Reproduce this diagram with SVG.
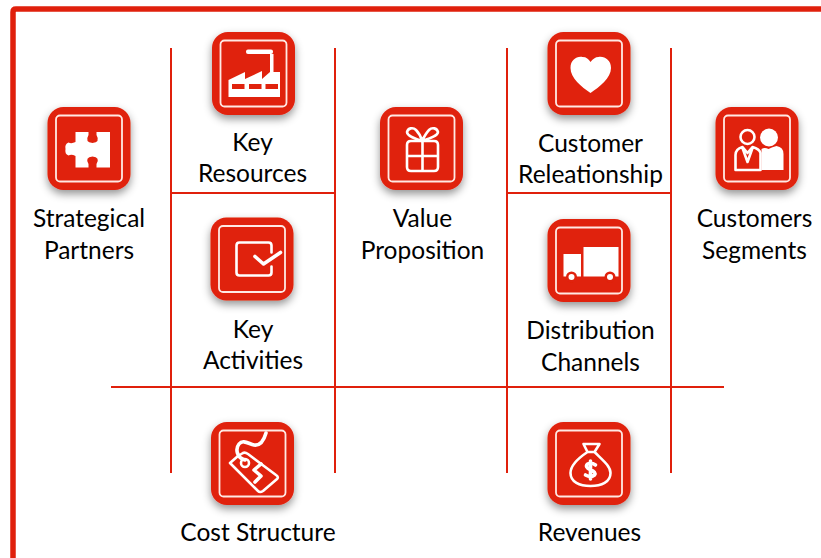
<svg xmlns="http://www.w3.org/2000/svg" width="821" height="558" viewBox="0 0 821 558">
<style>
text{font-family:"Lato","Liberation Sans",sans-serif;font-size:24.5px;fill:#000;text-anchor:middle;transform:translateY(.8px)}
.ln{stroke:#e0200c;stroke-width:2;fill:none}
.tile{fill:#e0200c;filter:url(#sh)}
.in{fill:none;stroke:#ffe9e4;stroke-width:1.800;filter:url(#bl)}
.ic{filter:url(#bl)}
.w{fill:#fff}
.s{fill:none;stroke:#fff;stroke-width:2.600;stroke-linejoin:round;stroke-linecap:round}
.t{stroke-width:3.600}
.r{fill:#e0200c}
</style>
<defs>
<filter id="sh" x="-20%" y="-20%" width="140%" height="145%"><feDropShadow dx="0" dy="4" stdDeviation="4" flood-color="#000" flood-opacity=".42"/></filter>
<filter id="bl" x="-10%" y="-10%" width="120%" height="120%"><feGaussianBlur stdDeviation=".5"/></filter>
<g id="bg"><rect class="tile" width="83" height="83" rx="16"/><rect class="in" x="8.500" y="8.500" width="66" height="66" rx="4"/></g>
</defs>
<rect width="821" height="558" fill="#fff"/>
<path d="M13 558V12q0-3 3-3H821" fill="none" stroke="#e0200c" stroke-width="5.500"/>
<g id="connectors">
<path class="ln" d="M171 48V473M335 48V473M507 48V473M671 48V473M171 193H335M507 193H671M111 387H724"/>
</g>
<g id="strategical-partners" transform="translate(47.500 107)"><use href="#bg"/>
<g class="ic"><path class="w" d="M28 25H41V28Q37 35 45 36Q53 35 49 28V25H62.500V60.500H49V57Q53 50 45 49.500Q37 50 41 57V60.500H28V49Q24 47 21 48.500Q17 47 18 42Q17 37 21 35.500Q24 37 28 35Z"/></g>
<text x="41.500" y="119">Strategical</text><text x="41.500" y="151">Partners</text></g>
<g id="key-resources" transform="translate(212 32)"><use href="#bg"/>
<g class="ic"><rect class="w" x="34" y="17.500" width="27" height="4.500" rx="2"/><rect class="w" x="58" y="22" width="3.500" height="20"/>
<path class="w" d="M16.500 48L33 40V47L50 39V47L58 40H68V65H16.500Z"/>
<rect class="r" x="20" y="52" width="12.500" height="5"/><rect class="r" x="37" y="52" width="12.500" height="5"/><rect class="r" x="53.500" y="52" width="12.500" height="5"/></g>
<text x="40.500" y="118">Key</text><text x="40.500" y="149">Resources</text></g>
<g id="key-activities" transform="translate(210.500 217.500)"><use href="#bg"/>
<g class="ic"><path class="s" d="M61 35V28Q61 25 58 25H29Q26 25 26 28V55Q26 58 29 58H58Q61 58 61 55V49"/>
<path class="s t" d="M44.500 39L53 46.500L70 35"/></g>
<text x="42.500" y="120">Key</text><text x="42.500" y="151">Activities</text></g>
<g id="value-proposition" transform="translate(380 107)"><use href="#bg"/>
<g class="ic"><path class="s" d="M27 38Q27 34 31 34H54Q58 34 58 38V60Q58 64 54 64H31Q27 64 27 60ZM27 49H58M42.500 34V64"/>
<path class="s" d="M42 34C36 32 27 29 27 25C28 21 33 20 36 23C39 26 41 30 42 34C44 30 46 26 49 23C52 20 57 21 58 25C58 29 48 32 42 34Z"/></g>
<text x="42.500" y="119">Value</text><text x="42.500" y="151">Proposition</text></g>
<g id="customer-releationship" transform="translate(547.500 32)"><use href="#bg"/>
<g class="ic"><path class="w" d="M43 61C34 55 23 46 23 36C23 28 29 24 35 25C39 25 41 27 43 30C45 27 48 25 51 25C57 24 63.500 28 63.500 36C63.500 46 52 55 43 61Z"/></g>
<text x="43" y="119">Customer</text><text x="43" y="150">Releationship</text></g>
<g id="distribution-channels" transform="translate(547.500 219)"><use href="#bg"/>
<g class="ic"><rect class="w" x="36" y="28" width="35" height="29.500"/><rect class="w" x="16" y="35" width="17.500" height="22.500"/>
<circle class="r" cx="24" cy="58" r="5.500"/><circle class="r" cx="62.500" cy="58" r="5.500"/>
<circle class="w" cx="24" cy="58" r="3"/><circle class="w" cx="62.500" cy="58" r="3"/></g>
<text x="43" y="119">Distribution</text><text x="43" y="151">Channels</text></g>
<g id="customers-segments" transform="translate(715.500 107)"><use href="#bg"/>
<g class="ic"><circle class="s" cx="32" cy="30" r="7"/><circle class="w" cx="53.500" cy="30.500" r="9"/>
<path class="w" d="M46 42Q49 40 53 42Q57 40 61 39Q68 40 68 47V63H46Z"/>
<path class="s" d="M20 63V48Q20 42 27 40L32 46L37 40Q44 42 45 46V63ZM27 41L32 55L37 41"/></g>
<text x="39" y="119">Customers</text><text x="39" y="151">Segments</text></g>
<g id="cost-structure" transform="translate(211 422)"><use href="#bg"/>
<g class="ic"><path class="s" d="M27 34L19 41L47 69Q49 71 52 69L66 57Q68 55 65 53L37 32Q34 30 32 31Z"/>
<circle class="s" cx="34" cy="41" r="4"/>
<path class="s t" d="M34 38C26 36 24 27 28 22C32 17 38 22 43 23C50 24 53 18 55 11"/>
<path class="s t" d="M50 42L43 48L50 54L44 60"/></g>
<text x="47" y="118">Cost Structure</text></g>
<g id="revenues" transform="translate(547.500 422)"><use href="#bg"/>
<g class="ic"><path class="s" d="M40 30L36 22H52L47 30ZM40 30C28 38 23 44 23 51C23 60 32 64 43 64C54 64 63 60 63 51C63 44 55 38 47 30"/>
<path class="s t" d="M48 43Q44 40 40 42Q37 45 43 48Q49 50 47 53Q43 56 38 53M43 39V57"/></g>
<text x="42" y="118">Revenues</text></g>
</svg>
